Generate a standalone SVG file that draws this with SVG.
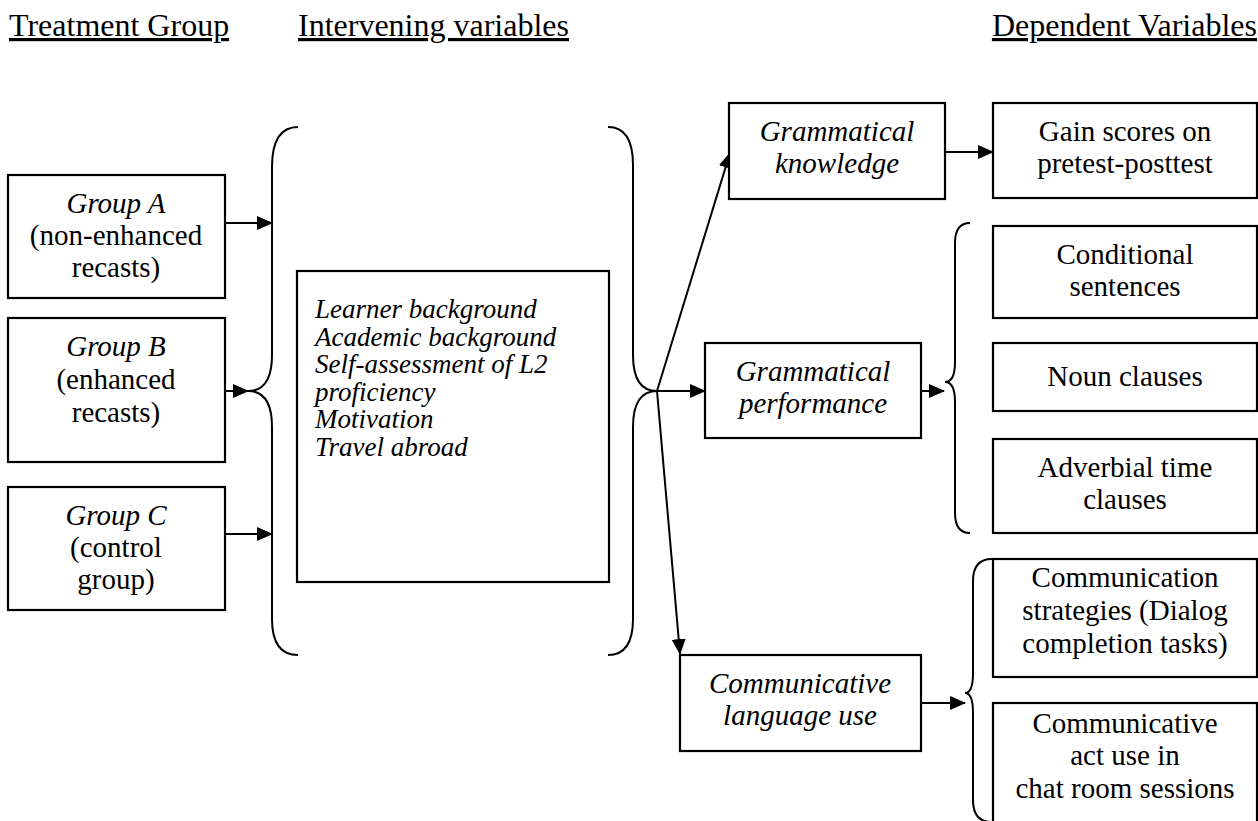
<svg xmlns="http://www.w3.org/2000/svg" width="1258" height="821" viewBox="0 0 1258 821">
<style>
text{font-family:"Liberation Serif","Times New Roman",serif;font-size:29px;fill:#000}
.h{font-size:32px;text-decoration:underline}
.i{font-style:italic}
.c{text-anchor:middle}
.m{font-size:27px}
.box{fill:#fff;stroke:#000;stroke-width:2.2}
.br{fill:none;stroke:#000;stroke-width:2}
.ln{fill:none;stroke:#000;stroke-width:2;marker-end:url(#ah)}
</style>
<defs>
<marker id="ah" markerUnits="userSpaceOnUse" markerWidth="16" markerHeight="14" refX="15" refY="7" orient="auto">
<path d="M0,0 L16,7 L0,14 Z" fill="#000"/>
</marker>
</defs>
<rect width="1258" height="821" fill="#fff"/>
<g id="headers">
<text class="h" x="9" y="36">Treatment Group</text>
<text class="h" x="298" y="36">Intervening variables</text>
<text class="h" x="1257" y="36" text-anchor="end">Dependent Variables</text>
</g>
<g id="braces">
<path class="br" d="M298,127 Q272,127 272,167 L272,355 Q272,391 248,391 Q272,391 272,427 L272,619 Q272,655 298,655"/>
<path class="br" d="M608,127 Q633,127 633,165 L633,355 Q633,391 657,391 Q633,391 633,427 L633,619 Q633,655 608,655"/>
<path class="br" d="M970,223 Q955,223 955,243 L955,362 Q955,382 945,382 Q955,382 955,402 L955,513 Q955,533 970,533"/>
<path class="br" d="M992,559 Q973,559 973,581 L973,673 Q973,693 965,693 Q973,693 973,713 L973,800 Q973,822 992,822"/>
</g>
<g id="connectors">
<line class="ln" x1="225" y1="223" x2="272" y2="223"/>
<line class="ln" x1="225" y1="391" x2="248" y2="391"/>
<line class="ln" x1="225" y1="534" x2="272" y2="534"/>
<line class="ln" x1="657" y1="391" x2="730" y2="153"/>
<line class="ln" x1="657" y1="391" x2="705" y2="391"/>
<line class="ln" x1="657" y1="391" x2="680" y2="654"/>
<line class="ln" x1="945" y1="152" x2="993" y2="152"/>
<line class="ln" x1="921" y1="391" x2="944" y2="391"/>
<line class="ln" x1="921" y1="703" x2="965" y2="703"/>
</g>
<g id="groupA">
<rect class="box" x="8" y="175" width="217" height="123"/>
<text class="c i" x="116" y="213">Group A</text>
<text class="c" x="116" y="245">(non-enhanced</text>
<text class="c" x="116" y="277">recasts)</text>
</g>
<g id="groupB">
<rect class="box" x="8" y="318" width="217" height="144"/>
<text class="c i" x="116" y="356">Group B</text>
<text class="c" x="116" y="389">(enhanced</text>
<text class="c" x="116" y="422">recasts)</text>
</g>
<g id="groupC">
<rect class="box" x="8" y="487" width="217" height="123"/>
<text class="c i" x="116" y="525">Group C</text>
<text class="c" x="116" y="557">(control</text>
<text class="c" x="116" y="589">group)</text>
</g>
<g id="intervening">
<rect class="box" x="297" y="271" width="312" height="311"/>
<text class="i m" x="315" y="318">Learner background</text>
<text class="i m" x="315" y="345.5">Academic background</text>
<text class="i m" x="315" y="373">Self-assessment of L2</text>
<text class="i m" x="315" y="400.5">proficiency</text>
<text class="i m" x="315" y="428">Motivation</text>
<text class="i m" x="315" y="455.5">Travel abroad</text>
</g>
<g id="knowledge">
<rect class="box" x="729" y="103" width="216" height="96"/>
<text class="c i" x="837" y="141">Grammatical</text>
<text class="c i" x="837" y="173">knowledge</text>
</g>
<g id="performance">
<rect class="box" x="705" y="343" width="216" height="95"/>
<text class="c i" x="813" y="381">Grammatical</text>
<text class="c i" x="813" y="413">performance</text>
</g>
<g id="communicative">
<rect class="box" x="680" y="655" width="241" height="96"/>
<text class="c i" x="800" y="693">Communicative</text>
<text class="c i" x="800" y="725">language use</text>
</g>
<g id="gain">
<rect class="box" x="993" y="103" width="264" height="95"/>
<text class="c" x="1125" y="141">Gain scores on</text>
<text class="c" x="1125" y="173">pretest-posttest</text>
</g>
<g id="conditional">
<rect class="box" x="993" y="226" width="264" height="92"/>
<text class="c" x="1125" y="264">Conditional</text>
<text class="c" x="1125" y="296">sentences</text>
</g>
<g id="noun">
<rect class="box" x="993" y="343" width="264" height="68"/>
<text class="c" x="1125" y="386">Noun clauses</text>
</g>
<g id="adverbial">
<rect class="box" x="993" y="439" width="264" height="94"/>
<text class="c" x="1125" y="477">Adverbial time</text>
<text class="c" x="1125" y="509">clauses</text>
</g>
<g id="strategies">
<rect class="box" x="993" y="559" width="264" height="118"/>
<text class="c" x="1125" y="587">Communication</text>
<text class="c" x="1125" y="620">strategies (Dialog</text>
<text class="c" x="1125" y="653">completion tasks)</text>
</g>
<g id="actuse">
<rect class="box" x="993" y="703" width="264" height="140"/>
<text class="c" x="1125" y="733">Communicative</text>
<text class="c" x="1125" y="765">act use in</text>
<text class="c" x="1125" y="798">chat room sessions</text>
</g>
</svg>
